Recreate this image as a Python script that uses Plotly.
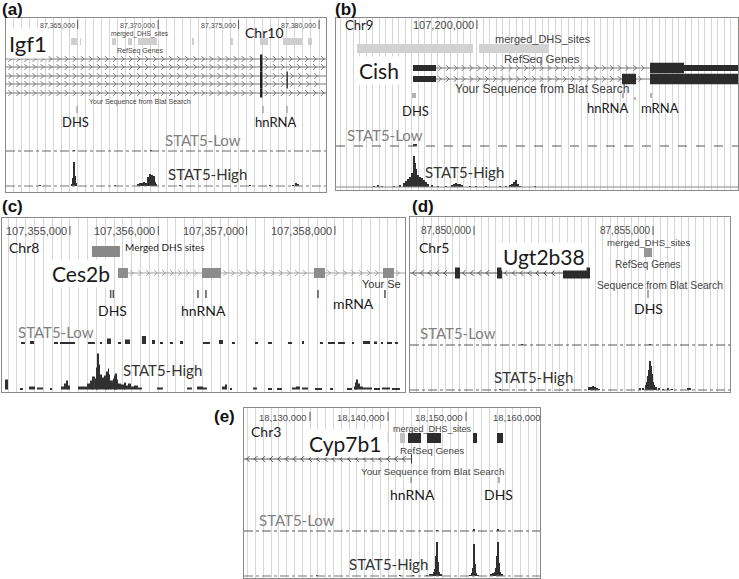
import numpy as np
import plotly.graph_objects as go

W, H = 739, 579
GRID = "#d6d6d6"
BORDER = "#8a8a8a"
UCSC_FONT = "Liberation Sans, Arial, sans-serif"
LABEL_FONT = "Lato, Open Sans, sans-serif"

# ---------------- (a) Igf1, chr10 ----------------
A_RANGE = [87360543, 87380434]
A_TICKS = [87365000, 87370000, 87375000, 87380000]
A_DHS_START = [87364583, 87365143, 87367132, 87368126, 87368748, 87372105, 87374467, 87376332, 87377761, 87379315]
A_DHS_END = [87364956, 87365205, 87367381, 87368375, 87369929, 87372229, 87374653, 87376829, 87378942, 87379564]
A_DHS_SCORE = [150, 150, 150, 150, 150, 150, 150, 150, 150, 150]
A_TX_SPAN = [87350000, 87390000]
A_TX_EXONS = [
    [(87376330, 87376480)],
    [(87376330, 87376480)],
    [(87376330, 87376480), (87377980, 87378060)],
    [(87376330, 87376480), (87377980, 87378060)],
    [(87376330, 87376480)],
]
A_BLAT = [87364956, 87376518, 87378010]
A_LOW_X = [87364770, 87369556]
A_LOW_Y = [1, 1]
A_HIGH_X = [87362656, 87364646, 87364708, 87364770, 87364832, 87364894, 87367318, 87368748, 87368872,
            87368997, 87369121, 87369245, 87369370, 87369432, 87369494, 87369556, 87369618, 87369681,
            87369743, 87369805, 87369867, 87371359, 87375710, 87376953, 87378383, 87378569, 87378694]
A_HIGH_Y = [1, 2, 8, 24, 10, 3, 1, 2, 3, 3, 4, 3, 9, 5, 12, 7, 11, 6, 10, 4, 2, 1, 1, 1, 1, 3, 2]

# ---------------- (b) Cish, chr9 ----------------
B_RANGE = [107197832, 107204014]
B_TICKS = [107200000, 107205000]
B_DHS_START = [107198155, 107200031]
B_DHS_END = [107199939, 107201092]
B_DHS_SCORE = [130, 130]
B_TX_SPAN = [107199016, 107204300]
B_TX_EXONS = [
    [(107199016, 107199370, "utr"), (107202661, 107203184, "cds"), (107203184, 107204300, "utr")],
    [(107199016, 107199370, "utr"), (107202230, 107202446, "cds"), (107202661, 107204300, "cds")],
]
B_BLAT = [107199016, 107199047, 107202246, 107202676]
B_BLAT_PARTIAL = [107202430]
B_LOW_X = [107199047]
B_LOW_Y = [2]
B_HIGH_X = [107198416, 107198478, 107198539, 107198724, 107198816, 107198878, 107198908, 107198939,
            107198970, 107199001, 107199031, 107199047, 107199062, 107199093, 107199124, 107199154,
            107199185, 107199216, 107199247, 107199308, 107199400, 107199524, 107199616, 107199647,
            107199677, 107199708, 107199739, 107199770, 107199893, 107199985, 107200139, 107200354,
            107200446, 107200508, 107200539, 107200569, 107200600, 107200631, 107200662, 107200892]
B_HIGH_Y = [1, 2, 1, 1, 2, 4, 6, 8, 10, 14, 31, 24, 18, 12, 10, 9, 7, 5, 3, 2, 1, 1, 2, 3,
            4, 3, 3, 2, 1, 1, 1, 1, 1, 2, 3, 5, 7, 3, 1, 1]

# ---------------- (c) Ces2b, chr8 ----------------
C_RANGE = [107354231, 107358793]
C_TICKS = [107355000, 107356000, 107357000, 107358000]
C_DHS_START = [107355249]
C_DHS_END = [107355566]
C_DHS_SCORE = [520]
C_TX_SPAN = [107355544, 107359500]
C_TX_EXONS = [[(107355544, 107355657), (107356495, 107356710), (107357762, 107357887), (107358544, 107358668)]]
C_BLAT = [107355461, 107355491, 107356449, 107356540, 107357808, 107358566]
C_LOW_START = [107354446, 107354548, 107354819, 107354887, 107355204, 107355340, 107355419, 107355544,
               107355623, 107355815, 107355929, 107356019, 107356132, 107356246, 107356506, 107356687,
               107356834, 107357095, 107357242, 107357468, 107357627, 107357830, 107357921, 107358034,
               107358193, 107358317, 107358442, 107358532, 107358589, 107358679]
C_LOW_END = [107354491, 107354593, 107354865, 107355057, 107355283, 107355363, 107355465, 107355578,
             107355680, 107355861, 107355963, 107356053, 107356166, 107356280, 107356585, 107356732,
             107356868, 107357129, 107357287, 107357513, 107357649, 107357864, 107358000, 107358113,
             107358215, 107358397, 107358476, 107358544, 107358646, 107358713]
C_LOW_H = [1.5, 3, 1.5, 1.5, 1.5, 2, 5.5, 1.5, 4.5, 8, 4, 1.5, 1.5, 3, 1.5, 4, 1.5, 1.5, 2, 1.5,
           3, 1.5, 2, 2, 1.5, 3, 2.5, 1.5, 1.5, 1.5]
C_HIGH_START = [107354265, 107354446, 107354536, 107354627, 107354774, 107354910, 107354932, 107354955,
                107354978, 107355091, 107355193, 107355227, 107355261, 107355283, 107355306, 107355317,
                107355329, 107355340, 107355363, 107355385, 107355408, 107355419, 107355431, 107355442,
                107355453, 107355487, 107355510, 107355521, 107355532, 107355544, 107355578, 107355612,
                107355623, 107355634, 107355657, 107355691, 107355725, 107355770, 107355985, 107356325,
                107356438, 107356506, 107356721, 107356755, 107356812, 107357072, 107357242, 107357344,
                107357513, 107357559, 107357627, 107357774, 107357944, 107358136, 107358215, 107358238,
                107358249, 107358261, 107358283, 107358317, 107358362, 107358442, 107358532, 107358645]
C_HIGH_END = [107354299, 107354468, 107354604, 107354695, 107354797, 107354932, 107354955, 107354978,
              107355000, 107355193, 107355227, 107355261, 107355283, 107355306, 107355317, 107355329,
              107355340, 107355363, 107355385, 107355408, 107355419, 107355431, 107355442, 107355453,
              107355487, 107355510, 107355521, 107355532, 107355544, 107355578, 107355612, 107355623,
              107355634, 107355657, 107355691, 107355725, 107355770, 107355815, 107356053, 107356381,
              107356506, 107356551, 107356755, 107356778, 107356834, 107357117, 107357287, 107357400,
              107357559, 107357604, 107357695, 107357853, 107357978, 107358193, 107358238, 107358249,
              107358261, 107358283, 107358317, 107358362, 107358419, 107358510, 107358623, 107358736]
C_HIGH_H = [10, 1.5, 3, 2, 1.5, 3, 6, 9, 4, 3, 6, 9, 13, 11, 22, 36, 25, 15, 12, 14, 13, 18, 21, 15,
            9, 11, 14, 16, 10, 6, 5, 4, 7, 4, 6, 3, 4, 2, 2, 2, 3, 2, 3, 5, 1.5, 2, 1.5, 1.5,
            2, 3, 2, 1.5, 1.5, 1.5, 3, 7, 10, 6, 3, 2, 2, 1.5, 2, 1.5]

# ---------------- (d) Ugt2b38, chr5 ----------------
D_RANGE = [87848212, 87857150]
D_TICKS = [87850000, 87855000]
D_DHS_START = [87854748]
D_DHS_END = [87854971]
D_DHS_SCORE = [450]
D_TX_SPAN = [87840000, 87853240]
D_TX_EXONS = [[(87849469, 87849609), (87850642, 87850782), (87852486, 87853240)]]
D_BLAT = [87854860]
D_LOW_X = [87851341, 87854916]
D_LOW_Y = [1, 1]
D_HIGH_X = [87850726, 87853212, 87853268, 87853324, 87853380, 87853435, 87853491, 87854636, 87854720,
            87854804, 87854832, 87854860, 87854888, 87854916, 87854944, 87854971, 87854999, 87855027,
            87855083, 87855167, 87855278, 87855418, 87855530, 87855977, 87856033]
D_HIGH_Y = [1, 3, 3, 4, 3, 2, 1, 2, 2, 5, 8, 14, 20, 29, 24, 16, 8, 5, 3, 2, 1, 2, 1, 2, 2]

# ---------------- (e) Cyp7b1, chr3 ----------------
E_RANGE = [18121539, 18159486]
E_TICKS = [18130000, 18140000, 18150000, 18160000]
E_DHS_START = [18139871, 18141538, 18142564, 18144999, 18150897, 18153973]
E_DHS_END = [18139999, 18142179, 18144230, 18146794, 18151409, 18154743]
E_DHS_SCORE = [30, 220, 1000, 1000, 1000, 1000]
E_TX_SPAN = [18100000, 18143076]
E_TX_EXONS = [[(18142950, 18143076)]]
E_BLAT = [18142948, 18154230]
E_LOW_X = [18146281, 18151025, 18154102]
E_LOW_Y = [1, 1.5, 1.5]
E_HIGH_X = [18130897, 18141538, 18143205, 18144999, 18145384, 18145640, 18145897, 18146025, 18146153,
            18146281, 18146410, 18146538, 18146794, 18150512, 18150768, 18150897, 18151025, 18151153,
            18151281, 18151538, 18153204, 18153461, 18153717, 18153845, 18153973, 18154102, 18154230,
            18154358, 18154614]
E_HIGH_Y = [1, 1, 1, 1, 2, 2, 4, 7, 20, 34, 14, 4, 2, 1, 3, 8, 32, 12, 3, 1, 2, 3, 4, 8, 20, 34, 13, 4, 2]


fig = go.Figure()


def setup(n, box, xrange, dtick, minor):
    l, t, r, b = box
    sfx = "" if n == 1 else str(n)
    fig.update_layout(**{
        "xaxis" + sfx: dict(
            domain=[l / W, r / W], range=xrange, anchor="y" + sfx,
            tickmode="linear", tick0=0, dtick=dtick, showticklabels=False, ticks="",
            showgrid=True, gridcolor=GRID, gridwidth=1,
            minor=dict(tick0=0, dtick=minor, showgrid=True, gridcolor=GRID, gridwidth=1, ticks=""),
            showline=True, mirror=True, linecolor=BORDER, linewidth=1, zeroline=False),
        "yaxis" + sfx: dict(
            domain=[1 - b / H, 1 - t / H], range=[b - t, 0], anchor="x" + sfx,
            showgrid=False, showticklabels=False, ticks="", zeroline=False,
            showline=True, mirror=True, linecolor=BORDER, linewidth=1),
    })
    return "x" + sfx, "y" + sfx


def text(s, x, y, size, color="#1a1a1a", font=LABEL_FONT, anchor="left", bg=None, bold=False):
    fig.add_annotation(text=f"<b>{s}</b>" if bold else s, x=x / W, y=1 - y / H, xref="paper", yref="paper",
                       xanchor=anchor, yanchor="middle", showarrow=False,
                       font=dict(family=font, size=size, color=color),
                       bgcolor=bg, borderpad=1)


def ticks(xr, yr, box, rng, tick_list, y_off, size):
    l, t, r, b = box
    for tk in tick_list:
        px = l + (tk - rng[0]) / (rng[1] - rng[0]) * (r - l)
        text(f"{tk:,}", px - 1, t + y_off, size, "#4a4a4a", UCSC_FONT, "right")
        fig.add_shape(type="line", xref=xr, yref=yr, x0=tk, x1=tk, y0=y_off - 5, y1=y_off + 4,
                      line=dict(color="#555555", width=1))


def gray(score):
    g = int(round(235 - score * 0.19))
    return f"rgb({g},{g},{g})"


def dhs(xr, yr, starts, ends, scores, y0, y1):
    for s, e, sc in zip(starts, ends, scores):
        fig.add_shape(type="rect", xref=xr, yref=yr, x0=s, x1=e, y0=y0, y1=y1,
                      fillcolor=gray(sc), line=dict(width=0))


def blat(xr, yr, xs, y0, y1, color, width=1, dash="solid"):
    for x in xs:
        fig.add_shape(type="line", xref=xr, yref=yr, x0=x, x1=x, y0=y0, y1=y1,
                      line=dict(color=color, width=width, dash=dash))


def gene(xr, yr, rng, span, exons, y, heights, color, line_color, strand, step):
    lo, hi = max(span[0], rng[0]), min(span[1], rng[1])
    fig.add_shape(type="line", xref=xr, yref=yr, x0=lo, x1=hi, y0=y, y1=y,
                  line=dict(color=line_color, width=1))
    # strand chevrons inside the introns, drawn as two short strokes
    bounds = [span[0]] + [v for ex in exons for v in ex[:2]] + [span[1]]
    cx = []
    for g0, g1 in zip(bounds[0::2], bounds[1::2]):
        g0, g1 = max(g0, rng[0]), min(g1, rng[1])
        if g1 - g0 > step * 0.8:
            cx.extend(np.arange(g0 + step * 0.5, g1 - step * 0.3, step))
    if cx:
        top, bot = ("line-nw", "line-ne") if strand == "+" else ("line-ne", "line-nw")
        for sym, dy in ((top, -1.3), (bot, 1.3)):
            fig.add_trace(go.Scatter(x=cx, y=[y + dy] * len(cx), mode="markers",
                                     marker=dict(symbol=sym, size=3.2, line=dict(color=line_color, width=1)),
                                     xaxis=xr, yaxis=yr, hoverinfo="skip", showlegend=False))
    for ex in exons:
        h = heights[ex[2]] if len(ex) > 2 else heights["cds"]
        fig.add_shape(type="rect", xref=xr, yref=yr, x0=ex[0], x1=ex[1], y0=y - h / 2, y1=y + h / 2,
                      fillcolor=color, line=dict(width=0))


def baseline(xr, yr, rng, base, color, dash):
    fig.add_trace(go.Scatter(x=rng, y=[base, base], mode="lines", line=dict(color=color, width=1, dash=dash),
                             xaxis=xr, yaxis=yr, hoverinfo="skip", showlegend=False))


def signal(xr, yr, xs, hs, width, base, color="#303030"):
    fig.add_trace(go.Bar(x=xs, y=[-v for v in hs], base=base, width=width,
                         marker=dict(color=color, line=dict(width=0)),
                         xaxis=xr, yaxis=yr, hoverinfo="skip", showlegend=False))


# ---------- panel (a)
box = (6, 18, 326, 192)
xr, yr = setup(1, box, A_RANGE, 5000, 500)
ticks(xr, yr, box, A_RANGE, A_TICKS, 7, 7)
dhs(xr, yr, A_DHS_START, A_DHS_END, A_DHS_SCORE, 20, 27)
for tx, yy in zip(A_TX_EXONS, [41, 49, 58, 66, 75]):
    gene(xr, yr, A_RANGE, A_TX_SPAN, tx, yy, {"cds": 9}, "#222222", "#777777", "+", 500)
blat(xr, yr, A_BLAT, 88, 95, "#888888")
baseline(xr, yr, A_RANGE, 133, "#666666", "dashdot")
signal(xr, yr, A_LOW_X, A_LOW_Y, 125, 133)
baseline(xr, yr, A_RANGE, 168, "#777777", "dashdot")
signal(xr, yr, A_HIGH_X, A_HIGH_Y, 125, 168)
text("(a)", 0, 9, 17, "#111", UCSC_FONT, bold=True)
text("Igf1", 7, 43, 22, bg="white")
text("Chr10", 243, 32, 14)
text("merged_DHS_sites", 140, 34, 6.6, "#444", UCSC_FONT, "center")
text("RefSeq Genes", 140, 51, 7, "#444", UCSC_FONT, "center")
text("Your Sequence from Blat Search", 140, 102, 7, "#444", UCSC_FONT, "center")
text("DHS", 75, 122, 13, anchor="center")
text("hnRNA", 275, 122, 13, anchor="center")
text("STAT5-Low", 203, 140, 15, "#808080", anchor="center")
text("STAT5-High", 207, 174, 15, "#333", anchor="center")

# ---------- panel (b)
box = (336, 18, 738, 190)
xr, yr = setup(2, box, B_RANGE, 5000, 100)
ticks(xr, yr, box, B_RANGE, B_TICKS, 7, 11)
dhs(xr, yr, B_DHS_START, B_DHS_END, B_DHS_SCORE, 26, 35)
for tx, yy in zip(B_TX_EXONS, [50, 61]):
    gene(xr, yr, B_RANGE, B_TX_SPAN, tx, yy, {"utr": 6, "cds": 10.5}, "#2b2b2b", "#777777", "+", 120)
blat(xr, yr, B_BLAT, 75, 80, "#666666")
blat(xr, yr, B_BLAT_PARTIAL, 79, 85, "#777777", 1, "dot")
baseline(xr, yr, B_RANGE, 128, "#555555", "dash")
signal(xr, yr, B_LOW_X, B_LOW_Y, 60, 128)
baseline(xr, yr, B_RANGE, 169, "#888888", "solid")
signal(xr, yr, B_HIGH_X, B_HIGH_Y, 31, 169)
text("(b)", 333, 9, 17, "#111", UCSC_FONT, bold=True)
text("Chr9", 343, 25, 13)
text("merged_DHS_sites", 543, 39, 11, "#444", UCSC_FONT, "center")
text("RefSeq Genes", 542, 59, 11.5, "#444", UCSC_FONT, "center")
text("Cish", 357, 70, 21, bg="white")
text("Your Sequence from Blat Search", 542, 89, 12, "#444", UCSC_FONT, "center")
text("DHS", 415, 111, 13, anchor="center")
text("hnRNA", 607, 108, 13, anchor="center")
text("mRNA", 660, 108, 13, anchor="center")
text("STAT5-Low", 345, 135, 15, "#808080")
text("STAT5-High", 423, 172, 15, "#333")

# ---------- panel (c)
box = (2, 218, 405, 392)
xr, yr = setup(3, box, C_RANGE, 1000, 100)
ticks(xr, yr, box, C_RANGE, C_TICKS, 13, 11)
dhs(xr, yr, C_DHS_START, C_DHS_END, C_DHS_SCORE, 28, 39)
gene(xr, yr, C_RANGE, C_TX_SPAN, C_TX_EXONS[0], 55, {"cds": 10}, "#8c8c8c", "#a0a0a0", "+", 90)
blat(xr, yr, C_BLAT, 72, 80, "#555555", 1.5)
signal(xr, yr, [(s + e) / 2 for s, e in zip(C_LOW_START, C_LOW_END)], C_LOW_H,
       [e - s for s, e in zip(C_LOW_START, C_LOW_END)], 126)
signal(xr, yr, [(s + e) / 2 for s, e in zip(C_HIGH_START, C_HIGH_END)], C_HIGH_H,
       [e - s for s, e in zip(C_HIGH_START, C_HIGH_END)], 171.5)
text("(c)", 0, 206, 17, "#111", UCSC_FONT, bold=True)
text("Chr8", 7, 247, 14)
text("Merged DHS sites", 123, 247, 10)
text("Ces2b", 50, 273, 21, bg="white")
text("Your Se", 360, 284, 11, "#333", UCSC_FONT)
text("DHS", 112, 311, 14, anchor="center")
text("hnRNA", 203, 311, 14, anchor="center")
text("mRNA", 353, 303, 14, anchor="center")
text("STAT5-Low", 16, 332, 15, "#808080")
text("STAT5-High", 121, 370, 15, "#333")

# ---------- panel (d)
box = (410, 217, 730, 392)
xr, yr = setup(4, box, D_RANGE, 5000, 200)
ticks(xr, yr, box, D_RANGE, D_TICKS, 14, 10)
dhs(xr, yr, D_DHS_START, D_DHS_END, D_DHS_SCORE, 31, 40)
gene(xr, yr, D_RANGE, D_TX_SPAN, D_TX_EXONS[0], 56, {"cds": 11}, "#2b2b2b", "#555555", "-", 220)
blat(xr, yr, D_BLAT, 73, 81, "#aaaaaa", 2)
baseline(xr, yr, D_RANGE, 128, "#555555", "dashdot")
signal(xr, yr, D_LOW_X, D_LOW_Y, 60, 128)
baseline(xr, yr, D_RANGE, 173, "#666666", "dashdot")
signal(xr, yr, D_HIGH_X, D_HIGH_Y, 40, 173)
text("(d)", 410, 206, 17, "#111", UCSC_FONT, bold=True)
text("Chr5", 417, 247, 14)
text("Ugt2b38", 501, 257, 21, bg="white")
text("merged_DHS_sites", 648, 243, 9.6, "#444", UCSC_FONT, "center")
text("RefSeq Genes", 648, 264, 10, "#444", UCSC_FONT, "center")
text("Sequence from Blat Search", 660, 285, 10.3, "#444", UCSC_FONT, "center")
text("DHS", 648, 308, 14, anchor="center")
text("STAT5-Low", 418, 333, 15, "#808080")
text("STAT5-High", 492, 377, 15, "#333")

# ---------- panel (e)
box = (244, 408, 540, 578)
xr, yr = setup(5, box, E_RANGE, 10000, 1000)
ticks(xr, yr, box, E_RANGE, E_TICKS, 9, 9.5)
dhs(xr, yr, E_DHS_START, E_DHS_END, E_DHS_SCORE, 25, 35)
gene(xr, yr, E_RANGE, E_TX_SPAN, E_TX_EXONS[0], 51, {"cds": 9}, "#333333", "#555555", "-", 1000)
blat(xr, yr, E_BLAT, 69, 75, "#666666")
baseline(xr, yr, E_RANGE, 123, "#555555", "dashdot")
signal(xr, yr, E_LOW_X, E_LOW_Y, 128, 123)
baseline(xr, yr, E_RANGE, 168, "#777777", "dashdot")
signal(xr, yr, E_HIGH_X, E_HIGH_Y, 128, 168)
text("(e)", 212, 416, 17, "#111", UCSC_FONT, bold=True)
text("Chr3", 249, 431, 14)
text("Cyp7b1", 307, 443, 21, bg="white")
text("merged_DHS_sites", 432, 429, 9, "#444", UCSC_FONT, "center")
text("RefSeq Genes", 432, 450, 9.8, "#444", UCSC_FONT, "center")
text("Your Sequence from Blat Search", 432, 471, 9.9, "#444", UCSC_FONT, "center")
text("hnRNA", 413, 494, 14, anchor="center")
text("DHS", 498, 494, 14, anchor="center")
text("STAT5-Low", 257, 520, 15, "#808080")
text("STAT5-High", 347, 564, 15, "#333")

fig.update_layout(width=W, height=H, margin=dict(l=0, r=0, t=0, b=0),
                  plot_bgcolor="white", paper_bgcolor="white",
                  barmode="overlay", showlegend=False)

# the page body has a default 8px margin; drop it so the figure fills the window
fig.write_html("out.html", config={"displayModeBar": False},
               post_script="document.body.style.margin='0px';")
